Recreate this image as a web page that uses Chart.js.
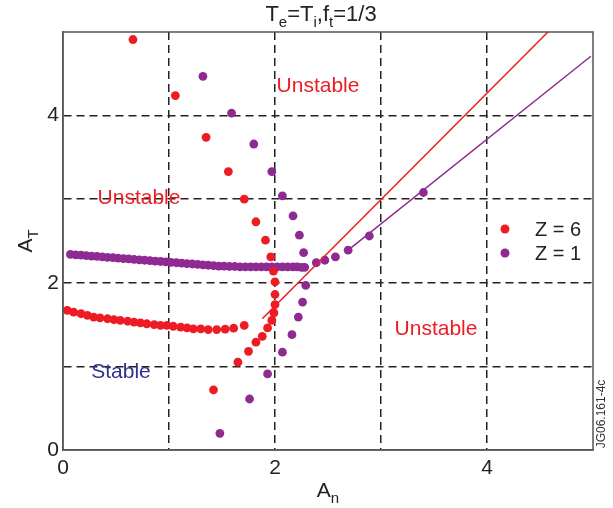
<!DOCTYPE html>
<html lang="en">
  <head>
    <meta charset="UTF-8" />
    <title>A_T vs A_n stability</title>
    <script src="https://cdn.jsdelivr.net/npm/chart.js"></script>
    <style>
      html, body { margin: 0; padding: 0; background: #fff; }
      #wrap { width: 613px; height: 508px; }
    </style>
  </head>
  <body>
    <div id="wrap"><canvas id="stabilityChart" width="613" height="508"></canvas></div>
    <script>
      // Z = 6 points (red)
      const z6X = [0.04, 0.10, 0.17, 0.23, 0.29, 0.35, 0.42, 0.48, 0.54, 0.61, 0.67, 0.73, 0.79, 0.86, 0.92, 0.98, 1.04, 1.11, 1.17, 1.23, 1.30, 1.37, 1.45, 1.53, 1.61, 1.71,
        0.66, 1.06, 1.35, 1.56, 1.71, 1.82, 1.91, 1.96, 1.985,
        2.0, 2.0, 2.0, 1.99, 1.97, 1.93, 1.88, 1.82, 1.75, 1.65, 1.42];
      const z6Y = [1.67, 1.65, 1.63, 1.61, 1.59, 1.58, 1.57, 1.56, 1.55, 1.54, 1.53, 1.52, 1.51, 1.50, 1.49, 1.49, 1.48, 1.47, 1.46, 1.45, 1.45, 1.44, 1.44, 1.445, 1.457, 1.49,
        4.91, 4.24, 3.74, 3.33, 3.0, 2.73, 2.51, 2.31, 2.14,
        2.01, 1.86, 1.74, 1.64, 1.55, 1.46, 1.36, 1.29, 1.18, 1.05, 0.72];

      // Z = 1 points (purple)
      const z1X = [0.07, 0.12, 0.17, 0.22, 0.27, 0.32, 0.37, 0.42, 0.47, 0.52, 0.57, 0.62, 0.67, 0.72, 0.77, 0.82, 0.87, 0.92, 0.97, 1.02,
        1.07, 1.12, 1.17, 1.22, 1.27, 1.32, 1.37, 1.42, 1.47, 1.52, 1.57, 1.62, 1.67, 1.72, 1.77, 1.82, 1.87, 1.92, 1.97, 2.02,
        2.07, 2.12, 2.17, 2.21, 2.25, 2.28,
        1.32, 1.59, 1.80, 1.97, 2.07, 2.17, 2.23, 2.27,
        2.29, 2.26, 2.22, 2.16, 2.07, 1.93, 1.76, 1.48,
        2.39, 2.47, 2.57, 2.69, 2.89, 3.40];
      const z1Y = [2.34, 2.335, 2.33, 2.325, 2.32, 2.315, 2.31, 2.305, 2.30, 2.295, 2.29, 2.285, 2.28, 2.275, 2.27, 2.265, 2.26, 2.255, 2.25, 2.245,
        2.24, 2.235, 2.23, 2.225, 2.22, 2.215, 2.21, 2.205, 2.20, 2.20, 2.195, 2.195, 2.19, 2.19, 2.19, 2.19, 2.19, 2.19, 2.19, 2.19,
        2.19, 2.19, 2.19, 2.19, 2.185, 2.185,
        4.47, 4.03, 3.66, 3.33, 3.04, 2.80, 2.57, 2.36,
        1.97, 1.77, 1.59, 1.38, 1.17, 0.91, 0.61, 0.20,
        2.24, 2.27, 2.31, 2.39, 2.56, 3.08];

      // asymptote lines
      const lineZ6X = [1.88, 4.575];
      const lineZ6Y = [1.57, 5.0];
      const lineZ1X = [2.69, 4.98];
      const lineZ1Y = [2.39, 4.71];

      const redColor = "#ed1c24";
      const purpleColor = "#8e2a91";
      const font = "'Liberation Sans', Arial, sans-serif";

      const toPts = (xs, ys) => xs.map((x, i) => ({ x: x, y: ys[i] }));

      // text with subscripts: parts = [[text, isSub], ...]
      function drawSub(ctx, parts, x, y, size, color) {
        const subSize = Math.round(size * 0.7);
        let total = 0;
        parts.forEach((p) => {
          ctx.font = (p[1] ? subSize : size) + "px " + font;
          total += ctx.measureText(p[0]).width;
        });
        let cx = x - total / 2;
        ctx.fillStyle = color;
        ctx.textAlign = "left";
        ctx.textBaseline = "alphabetic";
        parts.forEach((p) => {
          ctx.font = (p[1] ? subSize : size) + "px " + font;
          ctx.fillText(p[0], cx, p[1] ? y + size * 0.28 : y);
          cx += ctx.measureText(p[0]).width;
        });
      }

      const decorPlugin = {
        id: "decor",
        afterDatasetsDraw(chart) {
          const ctx = chart.ctx;
          const a = chart.chartArea;
          ctx.save();
          // frame
          ctx.strokeStyle = "#555";
          ctx.lineWidth = 1.5;
          ctx.strokeRect(a.left, a.top, a.right - a.left, a.bottom - a.top);

          // title
          drawSub(ctx, [["T", 0], ["e", 1], ["=T", 0], ["i", 1], [",f", 0], ["t", 1], ["=1/3", 0]], 321, 21, 22, "#222");
          // x axis title
          drawSub(ctx, [["A", 0], ["n", 1]], 328, 497, 21, "#222");
          // y axis title (rotated)
          ctx.save();
          ctx.translate(32, 241);
          ctx.rotate(-Math.PI / 2);
          drawSub(ctx, [["A", 0], ["T", 1]], 0, 0, 21, "#222");
          ctx.restore();

          // region labels
          ctx.font = "21px " + font;
          ctx.textAlign = "center";
          ctx.textBaseline = "middle";
          ctx.fillStyle = redColor;
          ctx.fillText("Unstable", 318, 86);
          ctx.fillText("Unstable", 139, 198);
          ctx.fillText("Unstable", 436, 329);
          ctx.fillStyle = "#2e3192";
          ctx.fillText("Stable", 121, 372);

          // legend
          ctx.fillStyle = redColor;
          ctx.beginPath();
          ctx.arc(505, 229, 4.5, 0, Math.PI * 2);
          ctx.fill();
          ctx.fillStyle = purpleColor;
          ctx.beginPath();
          ctx.arc(505, 253, 4.5, 0, Math.PI * 2);
          ctx.fill();
          ctx.fillStyle = "#222";
          ctx.textAlign = "left";
          ctx.font = "20px " + font;
          ctx.fillText("Z = 6", 535, 230);
          ctx.fillText("Z = 1", 535, 254);

          // side id
          ctx.save();
          ctx.translate(602, 414);
          ctx.rotate(-Math.PI / 2);
          ctx.font = "12px " + font;
          ctx.textAlign = "center";
          ctx.fillStyle = "#333";
          ctx.fillText("JG06.161-4c", 0, 0);
          ctx.restore();
          ctx.restore();
        },
      };

      const gridColor = (c) => (c.tick && c.tick.value > 0 && c.tick.value < 5 ? "#222" : "rgba(0,0,0,0)");

      new Chart(document.getElementById("stabilityChart"), {
        type: "scatter",
        data: {
          datasets: [
            {
              label: "Z = 6 fit",
              type: "line",
              data: toPts(lineZ6X, lineZ6Y),
              borderColor: redColor,
              borderWidth: 1.5,
              pointRadius: 0,
              fill: false,
            },
            {
              label: "Z = 1 fit",
              type: "line",
              data: toPts(lineZ1X, lineZ1Y),
              borderColor: purpleColor,
              borderWidth: 1.5,
              pointRadius: 0,
              fill: false,
            },
            {
              label: "Z = 6",
              data: toPts(z6X, z6Y),
              backgroundColor: redColor,
              borderWidth: 0,
              pointRadius: 4.4,
            },
            {
              label: "Z = 1",
              data: toPts(z1X, z1Y),
              backgroundColor: purpleColor,
              borderWidth: 0,
              pointRadius: 4.4,
            },
          ],
        },
        options: {
          responsive: false,
          animation: false,
          events: [],
          layout: { padding: { top: 32, right: 20, left: 0, bottom: 0 } },
          plugins: { legend: { display: false }, title: { display: false }, tooltip: { enabled: false } },
          scales: {
            x: {
              type: "linear",
              min: 0,
              max: 5,
              afterFit: (s) => { s.height = 58; },
              ticks: {
                stepSize: 1,
                padding: 6,
                color: "#222",
                font: { family: font, size: 21 },
                callback: (v) => (v % 2 === 0 ? v : ""),
              },
              grid: { color: gridColor, lineWidth: 1.5, drawTicks: false },
              border: { display: true, color: "#555", width: 1.5, dash: [8, 5] },
            },
            y: {
              type: "linear",
              min: 0,
              max: 5,
              afterFit: (s) => { s.width = 63; },
              ticks: {
                stepSize: 1,
                padding: 4,
                color: "#222",
                font: { family: font, size: 21 },
                callback: (v) => (v % 2 === 0 ? v : ""),
              },
              grid: { color: gridColor, lineWidth: 1.5, drawTicks: false },
              border: { display: true, color: "#555", width: 1.5, dash: [8, 5] },
            },
          },
        },
        plugins: [decorPlugin],
      });
    </script>
  </body>
</html>
